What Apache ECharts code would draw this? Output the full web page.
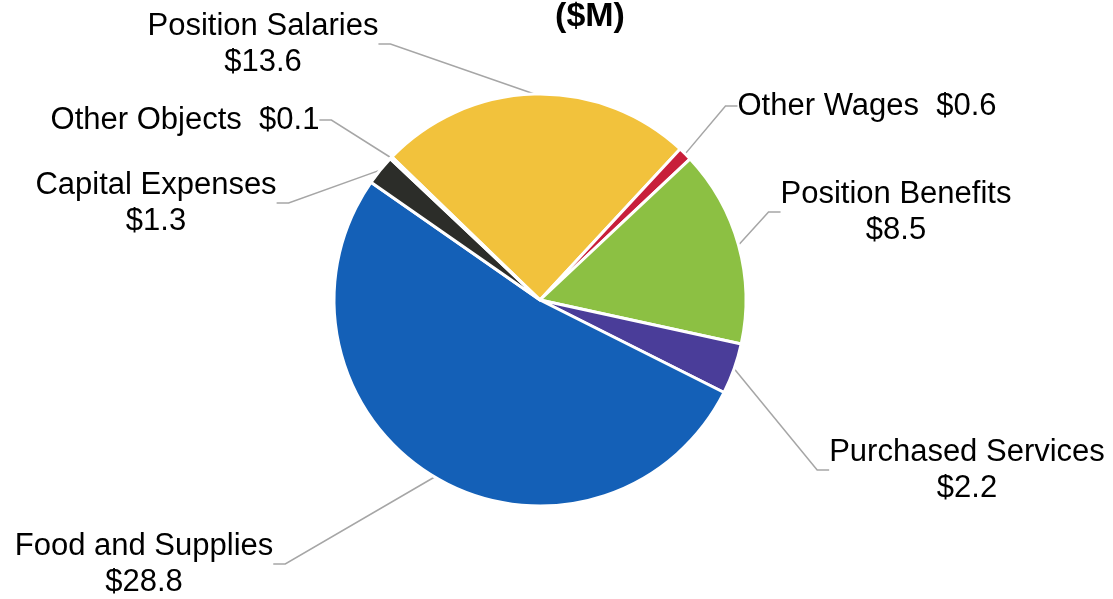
<!DOCTYPE html>
<html>
<head>
<meta charset="utf-8">
<script src="https://cdn.jsdelivr.net/npm/echarts@6/dist/echarts.min.js"></script>
<style>
  html, body { margin: 0; padding: 0; background: #fff; }
  #chart { width: 1113px; height: 599px; }
</style>
</head>
<body>
<div id="chart"></div>
<script>
// slice data, clockwise from Position Salaries
var categories = ['Position Salaries', 'Other Wages', 'Position Benefits', 'Purchased Services',
  'Food and Supplies', 'Capital Expenses', 'Other Objects']
var values = [13.6, 0.6, 8.5, 2.2, 28.8, 1.3, 0.1]
var colors = ['#F2C23C', '#C81F3B', '#8CC043', '#4A3D99', '#1460B7', '#2C2D29', '#BFBFBF']
// labels written on one line
var oneLine = ['Other Wages', 'Other Objects']

// where each label block sits (center x, center y)
var labelPos = [
  [263, 44], [867, 106], [896, 212], [967, 470],
  [144, 564], [156, 203], [185, 120]
]

var chart = echarts.init(document.getElementById('chart'))

var data = []
for (var i = 0; i < categories.length; i++) {
  data.push({
    name: categories[i],
    value: values[i],
    itemStyle: { color: colors[i] }
  })
}

chart.setOption({
  backgroundColor: '#fff',
  animation: false,
  title: {
    text: '($M)',
    left: 585,
    textAlign: 'center',
    top: -5,
    textStyle: {
      fontFamily: 'Liberation Sans',
      fontWeight: 'bold',
      fontSize: 34,
      lineHeight: 34,
      color: '#000'
    }
  },
  series: [{
    type: 'pie',
    center: [540, 300],
    radius: 206,
    startAngle: 136,
    clockwise: true,
    avoidLabelOverlap: false,
    itemStyle: {
      borderColor: '#fff',
      borderWidth: 3
    },
    label: {
      show: true,
      position: 'outside',
      fontFamily: 'Liberation Sans',
      fontSize: 31,
      lineHeight: 36,
      color: '#000',
      align: 'center',
      formatter: function (p) {
        if (oneLine.indexOf(p.name) >= 0) return p.name + '  $' + p.value
        return p.name + '\n$' + p.value
      }
    },
    labelLine: {
      show: true,
      length: 20,
      length2: 12,
      lineStyle: { color: '#A6A6A6', width: 1.5 }
    },
    labelLayout: function (params) {
      var pos = labelPos[params.dataIndex]
      return {
        x: pos[0],
        y: pos[1],
        align: 'center',
        verticalAlign: 'middle'
      }
    },
    data: data
  }]
})
</script>
</body>
</html>
